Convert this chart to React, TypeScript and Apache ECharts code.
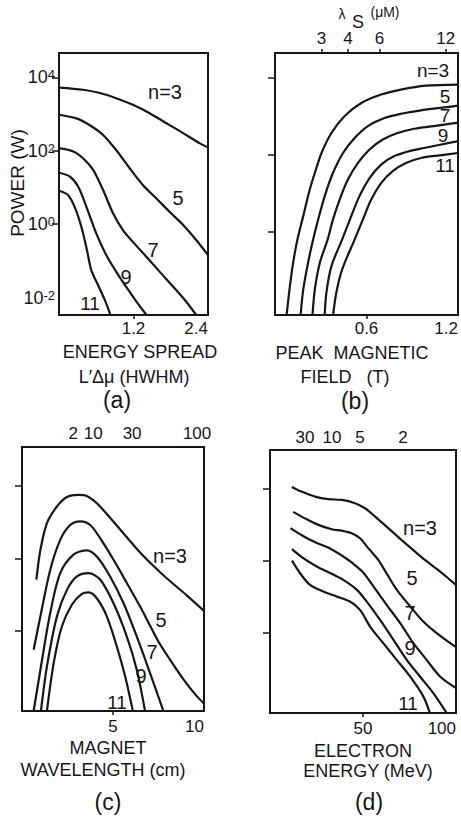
import React, { useEffect, useRef } from "react";
import * as echarts from "echarts";

// ---------- Panel (a): energy spread vs log10 power ----------
const aXLabels = [1.2, 2.4];
const aYTicks = [0, 2, 4];
const aYLabels = [-2, 0, 2, 4];
const aN3: number[][] = [[0, 3.72], [0.39, 3.66], [0.66, 3.57], [0.92, 3.43], [1.19, 3.25], [1.46, 3.02], [1.73, 2.75], [2.0, 2.48], [2.27, 2.2], [2.4, 2.09]];
const aN5: number[][] = [[0, 2.98], [0.28, 2.88], [0.49, 2.7], [0.71, 2.43], [0.92, 2.02], [1.14, 1.52], [1.35, 1.07], [1.57, 0.7], [1.78, 0.34], [2.0, -0.02], [2.21, -0.43], [2.4, -0.84]];
const aN7: number[][] = [[0, 2.07], [0.23, 1.98], [0.39, 1.79], [0.55, 1.48], [0.71, 0.93], [0.87, 0.3], [1.03, -0.16], [1.19, -0.48], [1.41, -0.89], [1.62, -1.29], [1.84, -1.7], [2.05, -2.11], [2.21, -2.47]];
const aN9: number[][] = [[0, 1.4], [0.17, 1.3], [0.31, 1.02], [0.44, 0.48], [0.6, -0.25], [0.76, -0.84], [0.92, -1.29], [1.08, -1.7], [1.25, -2.11], [1.41, -2.47]];
const aN11: number[][] = [[0, 0.91], [0.14, 0.8], [0.25, 0.48], [0.36, -0.07], [0.45, -0.7], [0.52, -1.25], [0.63, -1.66], [0.74, -2.07], [0.83, -2.47]];

// ---------- Panel (b): peak magnetic field ----------
const bXLabels = [0.6, 1.2];
const bTopPos = [0.305, 0.478, 0.685, 1.12];
const bTopLabels = ["3", "4", "6", "12"];
const bYTicks = [0, 2, 4];
const bN3: number[][] = [[0.076, -2.17], [0.095, -1.51], [0.117, -0.86], [0.147, -0.21], [0.185, 0.4], [0.228, 1.09], [0.261, 1.52], [0.305, 2.04], [0.37, 2.56], [0.457, 3.0], [0.566, 3.34], [0.696, 3.56], [0.826, 3.69], [0.99, 3.79], [1.2, 3.82]];
const bN5: number[][] = [[0.168, -2.17], [0.185, -1.51], [0.217, -0.81], [0.25, -0.21], [0.283, 0.31], [0.326, 0.92], [0.38, 1.52], [0.446, 2.04], [0.522, 2.43], [0.609, 2.74], [0.718, 2.95], [0.826, 3.06], [0.957, 3.15], [1.098, 3.22], [1.2, 3.27]];
const bN7: number[][] = [[0.246, -2.17], [0.261, -1.51], [0.294, -0.81], [0.345, -0.21], [0.38, 0.31], [0.424, 0.83], [0.478, 1.35], [0.543, 1.78], [0.62, 2.13], [0.707, 2.39], [0.804, 2.56], [0.913, 2.67], [1.076, 2.76], [1.2, 2.83]];
const bN9: number[][] = [[0.326, -2.17], [0.337, -1.59], [0.37, -0.9], [0.44, -0.21], [0.5, 0.4], [0.554, 0.92], [0.62, 1.39], [0.696, 1.74], [0.783, 1.96], [0.881, 2.09], [0.978, 2.17], [1.2, 2.35]];
const bN11: number[][] = [[0.381, -2.17], [0.402, -1.59], [0.44, -0.99], [0.522, -0.21], [0.576, 0.31], [0.631, 0.83], [0.696, 1.26], [0.772, 1.57], [0.859, 1.78], [0.957, 1.91], [1.08, 1.98], [1.2, 2.04]];

// ---------- Panel (c): magnet wavelength ----------
const cXLabels = [5, 10];
const cTopPos = [2.81, 3.91, 6.05, 9.62];
const cTopLabels = ["2", "10", "30", "100"];
const cYTicks = [0, 2, 4];
const cN3: number[][] = [[0.79, 1.41], [1.01, 2.23], [1.37, 2.97], [1.92, 3.43], [2.47, 3.69], [3.11, 3.75], [3.56, 3.72], [4.11, 3.52], [4.84, 3.12], [5.76, 2.58], [6.49, 2.16], [7.2, 1.8], [7.95, 1.45], [9.05, 0.98], [10, 0.55]];
const cN5: number[][] = [[0.64, -0.52], [1.01, 0.4], [1.55, 1.68], [2.1, 2.51], [2.65, 2.92], [3.2, 3.02], [3.75, 2.92], [4.3, 2.55], [5.03, 1.96], [5.76, 1.32], [6.49, 0.67], [7.04, 0.14], [7.5, -0.3], [8.14, -0.8], [8.86, -1.33], [9.6, -1.8], [10, -2.0]];
const cN7: number[][] = [[0.64, -2.21], [1.01, -1.08], [1.55, 0.49], [2.1, 1.59], [2.83, 2.1], [3.56, 2.22], [4.11, 2.05], [4.84, 1.5], [5.58, 0.76], [6.31, -0.16], [7.04, -1.17], [7.77, -2.21]];
const cN9: number[][] = [[1.04, -2.21], [1.37, -0.98], [1.92, 0.4], [2.47, 1.13], [3.02, 1.5], [3.66, 1.59], [4.3, 1.41], [5.03, 0.76], [5.76, -0.16], [6.31, -1.08], [6.76, -2.21]];
const cN11: number[][] = [[1.37, -2.21], [1.74, -0.89], [2.19, 0.12], [2.74, 0.72], [3.29, 1.02], [3.66, 1.06], [4.11, 0.9], [4.66, 0.4], [5.21, -0.43], [5.67, -1.26], [6.09, -2.21]];

// ---------- Panel (d): electron energy ----------
const dXLabels = [50, 100];
const dTopPos = [18.8, 33.3, 48.4, 71.5];
const dTopLabels = ["30", "10", "5", "2"];
const dYTicks = [0, 2, 4];
const dN3: number[][] = [[11.7, 4.04], [17.0, 3.91], [24.2, 3.77], [31.3, 3.7], [38.5, 3.68], [45.7, 3.59], [51.1, 3.45], [56.5, 3.22], [63.6, 2.9], [70.8, 2.57], [78.0, 2.25], [83.3, 2.02], [90.0, 1.76], [95.0, 1.55], [100, 1.33]];
const dN5: number[][] = [[12.5, 3.35], [18.8, 3.17], [26.0, 2.99], [33.2, 2.87], [38.5, 2.83], [43.9, 2.76], [48.4, 2.62], [52.9, 2.34], [58.2, 2.02], [63.0, 1.62], [68.1, 1.2], [75.3, 0.74], [82.4, 0.32], [89.6, 0.0], [100, -0.39]];
const dN7: number[][] = [[11.0, 2.9], [17.5, 2.69], [24.6, 2.5], [31.8, 2.35], [39.0, 2.13], [44.4, 1.93], [50.0, 1.68], [55.6, 1.29], [62.7, 0.78], [69.9, 0.28], [77.1, -0.28], [84.2, -0.74], [91.4, -1.2], [100, -1.52]];
const dN9: number[][] = [[11.8, 2.32], [17.9, 2.07], [25.1, 1.84], [32.3, 1.66], [39.4, 1.47], [46.6, 1.2], [52.0, 0.87], [59.1, 0.37], [66.3, -0.18], [73.5, -0.74], [80.6, -1.2], [87.8, -1.66], [95.0, -2.21]];
const dN11: number[][] = [[11.8, 2.0], [16.1, 1.66], [21.5, 1.33], [28.7, 1.15], [35.8, 1.01], [43.0, 0.87], [48.4, 0.64], [53.8, 0.18], [60.9, -0.28], [68.1, -0.74], [75.3, -1.2], [82.4, -1.75], [86.0, -2.21]];

const harmonicLabels = ["n=3", "5", "7", "9", "11"];

const FONT = "'Liberation Sans', Arial, sans-serif";
const INK = "#161616";

function xAxisDef(grid: number, min: number, max: number, pos: "bottom" | "top", ticks: number[], labels: number[], fmt: (v: number) => string, alignRight: boolean, margin: number) {
  return {
    type: "value",
    gridIndex: grid,
    position: pos,
    min,
    max,
    axisLine: { show: false, onZero: false },
    splitLine: { show: false },
    axisTick: { show: ticks.length > 0, inside: false, length: 4, lineStyle: { color: INK, width: 1.5 }, customValues: ticks },
    axisLabel: {
      show: true,
      customValues: labels,
      margin,
      color: INK,
      fontSize: 17,
      fontFamily: FONT,
      formatter: fmt,
      alignMaxLabel: alignRight ? "right" : undefined,
    },
  };
}

function yAxisDef(grid: number, min: number, max: number, ticks: number[], labels: number[] | null) {
  return {
    type: "value",
    gridIndex: grid,
    min,
    max,
    axisLine: { show: false, onZero: false },
    splitLine: { show: false },
    axisTick: { show: true, inside: false, length: 7, lineStyle: { color: INK, width: 1.5 }, customValues: ticks },
    axisLabel: labels
      ? {
          show: true,
          customValues: labels,
          margin: 4,
          color: INK,
          fontFamily: FONT,
          formatter: (v: number) => `{b|10}{s|${Math.round(v)}}`,
          rich: {
            b: { fontSize: 18, fontFamily: FONT, color: INK, verticalAlign: "bottom", lineHeight: 18 },
            s: { fontSize: 13, fontFamily: FONT, color: INK, verticalAlign: "top", lineHeight: 13, padding: [0, 0, 10, 0] },
          },
        }
      : { show: false },
  };
}

function line(data: number[][], xi: number, yi: number, name: string) {
  return {
    type: "line",
    name,
    xAxisIndex: xi,
    yAxisIndex: yi,
    data,
    symbol: "none",
    showSymbol: false,
    smooth: 0.3,
    clip: true,
    silent: true,
    lineStyle: { color: INK, width: 2.2 },
  };
}

function txt(text: string, x: number, y: number, size: number, extra: any = {}) {
  return {
    type: "text",
    x,
    y,
    silent: true,
    ...extra,
    style: {
      text,
      fill: INK,
      fontSize: size,
      fontFamily: FONT,
      align: "center",
      verticalAlign: "middle",
      textAlign: "center",
      textVerticalAlign: "middle",
    },
  };
}

const str = (v: number) => String(v);

export default function App() {
  const ref = useRef<HTMLDivElement>(null);
  useEffect(() => {
    const chart = echarts.init(ref.current!, null, { renderer: "svg" });
    const gridStyle = { show: true, borderColor: INK, borderWidth: 2, backgroundColor: "transparent", containLabel: false };
    const option: any = {
      animation: false,
      backgroundColor: "#ffffff",
      grid: [
        { ...gridStyle, left: 59, top: 53, width: 149, height: 262 },
        { ...gridStyle, left: 275, top: 53, width: 184, height: 262 },
        { ...gridStyle, left: 22, top: 447, width: 182, height: 264 },
        { ...gridStyle, left: 270, top: 450, width: 186, height: 263 },
      ],
      xAxis: [
        xAxisDef(0, 0, 2.4, "bottom", [1.2], aXLabels, (v) => v.toFixed(1), true, 5),
        xAxisDef(1, 0, 1.2, "bottom", [0.6], bXLabels, (v) => v.toFixed(1), true, 5),
        xAxisDef(1, 0, 1.2, "top", bTopPos, bTopPos, (v) => bTopLabels[bTopPos.indexOf(v)], false, 6),
        xAxisDef(2, 0, 10, "bottom", [5], cXLabels, str, true, 7),
        xAxisDef(2, 0, 10, "top", [], cTopPos, (v) => cTopLabels[cTopPos.indexOf(v)], false, 5),
        xAxisDef(3, 0, 100, "bottom", [50], dXLabels, str, true, 7),
        xAxisDef(3, 0, 100, "top", [], dTopPos, (v) => dTopLabels[dTopPos.indexOf(v)], false, 4),
      ],
      yAxis: [
        yAxisDef(0, -2.47, 4.66, aYTicks, aYLabels),
        yAxisDef(1, -2.17, 4.64, bYTicks, null),
        yAxisDef(2, -2.21, 5.07, cYTicks, null),
        yAxisDef(3, -2.21, 5.06, dYTicks, null),
      ],
      series: [
        line(aN3, 0, 0, "a3"), line(aN5, 0, 0, "a5"), line(aN7, 0, 0, "a7"), line(aN9, 0, 0, "a9"), line(aN11, 0, 0, "a11"),
        line(bN3, 1, 1, "b3"), line(bN5, 1, 1, "b5"), line(bN7, 1, 1, "b7"), line(bN9, 1, 1, "b9"), line(bN11, 1, 1, "b11"),
        line(cN3, 3, 2, "c3"), line(cN5, 3, 2, "c5"), line(cN7, 3, 2, "c7"), line(cN9, 3, 2, "c9"), line(cN11, 3, 2, "c11"),
        line(dN3, 5, 3, "d3"), line(dN5, 5, 3, "d5"), line(dN7, 5, 3, "d7"), line(dN9, 5, 3, "d9"), line(dN11, 5, 3, "d11"),
      ],
      graphic: [
        txt("POWER (W)", 17, 183, 19, { rotation: Math.PI / 2 }),
        txt("ENERGY SPREAD", 140, 352, 18),
        txt("L′Δμ (HWHM)", 134, 377, 18),
        txt("(a)", 117, 400, 23),
        txt("PEAK  MAGNETIC", 352, 353, 18),
        txt("FIELD   (T)", 345, 377, 18),
        txt("(b)", 355, 401, 23),
        txt("MAGNET", 108, 748, 18),
        txt("WAVELENGTH (cm)", 103, 770, 18),
        txt("(c)", 108, 802, 23),
        txt("ELECTRON", 363, 751, 18),
        txt("ENERGY (MeV)", 368, 771, 18),
        txt("(d)", 369, 802, 23),
        txt("λ", 342, 14, 14),
        txt("S", 358, 22, 18),
        txt("(μM)", 385, 12, 14),
        // (a)
        txt(harmonicLabels[0], 165, 92, 20),
        txt(harmonicLabels[1], 178, 198, 20),
        txt(harmonicLabels[2], 153, 250, 20),
        txt(harmonicLabels[3], 126, 277, 20),
        txt(harmonicLabels[4], 90, 303, 19),
        // (b)
        txt(harmonicLabels[0], 433, 70, 19),
        txt(harmonicLabels[1], 445, 96, 19),
        txt(harmonicLabels[2], 445, 115, 19),
        txt(harmonicLabels[3], 443, 135, 19),
        txt(harmonicLabels[4], 445, 165, 19),
        // (c)
        txt(harmonicLabels[0], 170, 556, 20),
        txt(harmonicLabels[1], 161, 620, 20),
        txt(harmonicLabels[2], 152, 652, 20),
        txt(harmonicLabels[3], 141, 676, 20),
        txt(harmonicLabels[4], 117, 702, 19),
        // (d)
        txt(harmonicLabels[0], 420, 528, 20),
        txt(harmonicLabels[1], 412, 578, 20),
        txt(harmonicLabels[2], 410, 613, 20),
        txt(harmonicLabels[3], 410, 648, 20),
        txt(harmonicLabels[4], 408, 703, 19),
      ],
    };
    chart.setOption(option);
    return () => chart.dispose();
  }, []);
  return (
    <div
      ref={ref}
      style={{ position: "fixed", left: 0, top: 0, width: 461, height: 820, background: "#fff" }}
    />
  );
}
